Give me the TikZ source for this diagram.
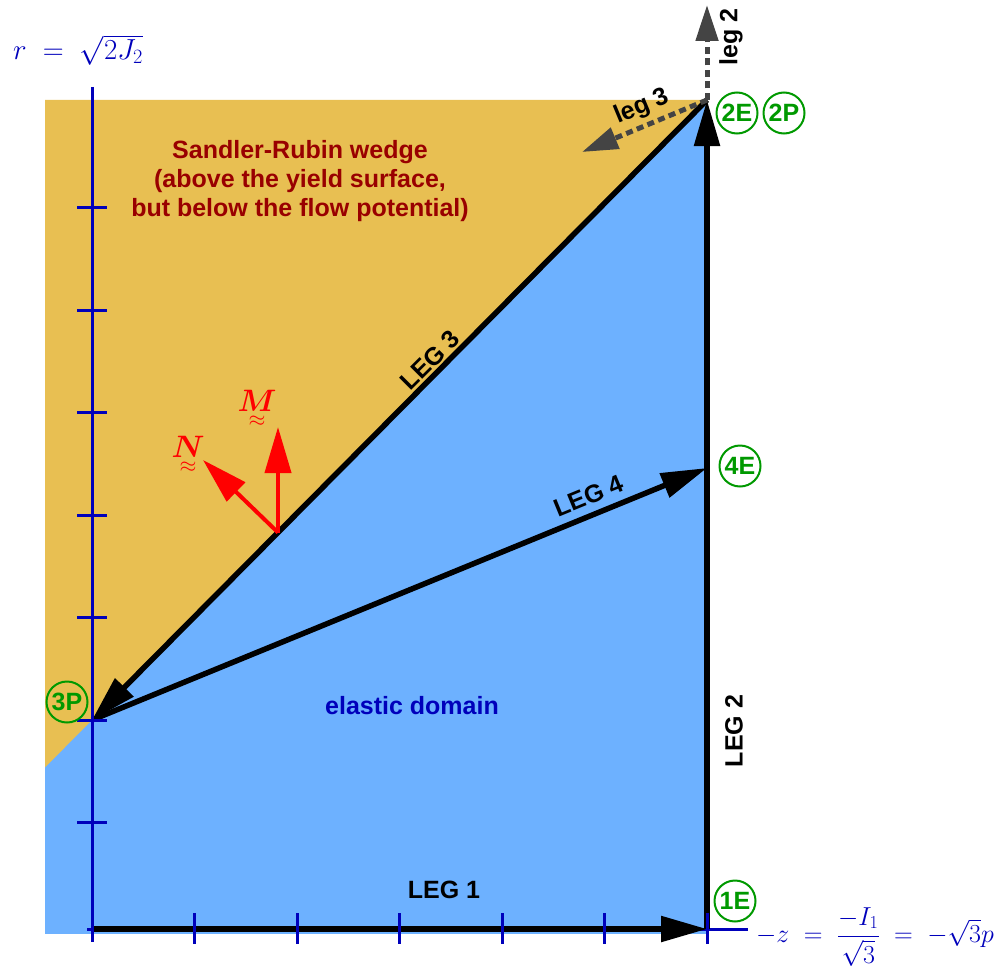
\RequirePackage{fix-cm}
\documentclass[tikz,border=0pt]{standalone}
\usepackage{amsmath}
\usepackage{fontspec}
\setsansfont{Liberation Sans}
\usetikzlibrary{arrows.meta}
\definecolor{wedgefill}{HTML}{E8BF52}
\definecolor{elasticfill}{HTML}{6DB1FF}
\definecolor{axisblue}{HTML}{0000BB}
\definecolor{darkred}{HTML}{990000}
\definecolor{circgreen}{HTML}{009900}
\definecolor{dgray}{HTML}{444444}
\definecolor{textblue}{HTML}{0000BB}
\tikzset{
  legline/.style={line width=5.5pt, -{Triangle[length=46pt,width=25pt]}},
  dashleg/.style={dgray, line width=5pt, dash pattern=on 7pt off 4.5pt, -{Triangle[length=36pt,width=22pt]}},
  redarrow/.style={red, line width=4pt, -{Triangle[length=46pt,width=26pt]}},
  axisline/.style={axisblue, line width=3pt},
  statecirc/.style={circle, draw=circgreen, line width=2pt, text=circgreen, minimum size=41pt, inner sep=0pt, font=\fontsize{25}{25}\selectfont\sffamily\bfseries},
  leglabel/.style={font=\fontsize{25}{25}\selectfont\sffamily\bfseries, inner sep=0pt},
  mathlabel/.style={text=textblue, inner sep=0pt},
  vectlabel/.style={text=red, font=\fontsize{31}{31}\selectfont, inner sep=0pt},
}
\begin{document}
\begin{tikzpicture}[x=1pt,y=-1pt]
\useasboundingbox (0,0) rectangle (1008,979);
\coordinate (O) at (92,929);
\coordinate (E1) at (707,929);
\coordinate (E2) at (707,100);
\coordinate (P3) at (92,720);
\coordinate (E4) at (707,468);
\coordinate (F) at (278,532.5);
\coordinate (L2) at (707,5);
\coordinate (L3) at (582,152);
\coordinate (Mt) at (278,427);
\coordinate (Nt) at (203,460);
% regions
\fill[elasticfill] (45,100) rectangle (707,934);
\fill[wedgefill] (45,100) -- (E2) -- (45,767.4) -- cycle;
% horizontal axis (under the legs)
\draw[axisline] (87,929) -- (748,929);
% legs
\draw[legline] (O) -- (E1);
\draw[legline] (E1) -- (E2);
\draw[legline] (E2) -- (P3);
\draw[legline] (P3) -- (E4);
% dashed continuation arrows
\draw[dashleg] (E2) -- (L2);
\draw[dashleg] (E2) -- (L3);
% normals
\draw[redarrow] (F) -- (Mt);
\draw[redarrow] (F) -- (Nt);
% vertical axis and ticks
\draw[axisline] (92,87) -- (92,942);
\foreach \yy in {207.5,310,412.5,515,617.5,720,822.5}
  \draw[axisline] (77,\yy) -- (107,\yy);
\foreach \xx in {194.5,297,399.5,502,604.5,707}
  \draw[axisline] (\xx,913) -- (\xx,944);
% leg labels
\node[leglabel] (leg1) at (444,890) {LEG 1};
\node[leglabel, rotate=90] (leg2) at (734,731) {LEG 2};
\node[leglabel, rotate=45] (leg3) at (430,360) {LEG 3};
\node[leglabel, rotate=22.3] (leg4) at (589,496) {LEG 4};
\node[leglabel, rotate=90] (leg2s) at (731,37) {leg 2};
\node[leglabel, rotate=22.6] (leg3s) at (642,107) {leg 3};
% state circles
\node[statecirc] (c2E) at (737,113) {2E};
\node[statecirc] (c2P) at (784,113) {2P};
\node[statecirc] (c4E) at (740,466) {4E};
\node[statecirc] (c3P) at (67,702) {3P};
\node[statecirc] (c1E) at (735,901) {1E};
% region texts
\node[font=\fontsize{25}{29}\selectfont\sffamily\bfseries, text=darkred, align=center] (wedgetxt) at (300,181) {Sandler-Rubin wedge\\(above the yield surface,\\but below the flow potential)};
\node[font=\fontsize{25}{25}\selectfont\sffamily\bfseries, text=textblue] (elastictxt) at (412,706) {elastic domain};
% axis labels
\node[mathlabel, font=\fontsize{29}{29}\selectfont, anchor=west] (raxis) at (13,50) {$r \;=\; \sqrt{2J_2}$};
\node[mathlabel, font=\fontsize{26}{26}\selectfont, anchor=west] (zaxis) at (756,937) {$-z \;=\; \dfrac{-I_1}{\sqrt{3}} \;=\; -\sqrt{3}p$};
% vector labels
\node[vectlabel] (Nlab) at (188,456) {$\underset{\approx}{\boldsymbol{N}}$};
\node[vectlabel] (Mlab) at (257,410) {$\underset{\approx}{\boldsymbol{M}}$};
\end{tikzpicture}
\end{document}
